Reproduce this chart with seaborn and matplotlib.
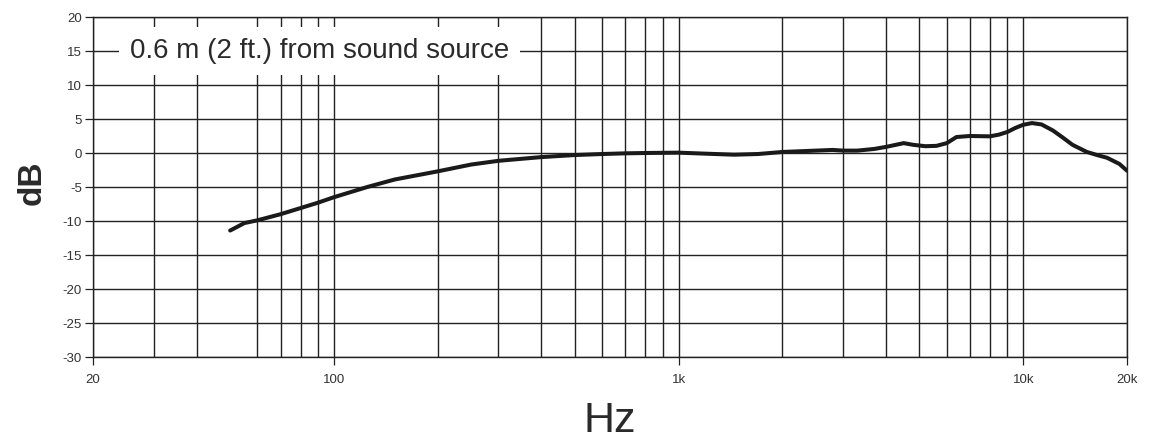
import numpy as np
import pandas as pd
import seaborn as sns
import matplotlib.pyplot as plt
from matplotlib.ticker import FixedLocator, NullFormatter

# frequency response (Hz, dB)
freq_hz = [50, 55, 60, 70, 80, 90, 100, 125, 150, 200, 250, 300, 400, 500, 600,
           700, 800, 1000, 1200, 1450, 1700, 2000, 2500, 2800, 3000, 3300, 3700,
           4000, 4500, 4800, 5200, 5600, 6000, 6400, 7000, 8000, 8500, 9000,
           9500, 10000, 10600, 11300, 12200, 13000, 13900, 15300, 16500, 17500,
           19000, 20000]
level_db = [-11.4, -10.3, -9.9, -9.0, -8.1, -7.3, -6.5, -5.0, -3.9, -2.7, -1.7,
            -1.15, -0.6, -0.3, -0.15, -0.05, 0.0, 0.05, -0.1, -0.25, -0.15, 0.15,
            0.35, 0.45, 0.35, 0.35, 0.6, 0.9, 1.45, 1.2, 1.0, 1.05, 1.45, 2.35,
            2.5, 2.45, 2.7, 3.1, 3.7, 4.15, 4.4, 4.2, 3.3, 2.3, 1.2, 0.15, -0.35,
            -0.7, -1.6, -2.6]

major_ticks = [20, 100, 1000, 10000, 20000]
major_labels = ['20', '100', '1k', '10k', '20k']
grid_freqs = [30, 40, 60, 70, 80, 90,
              200, 300, 400, 500, 600, 700, 800, 900,
              2000, 3000, 4000, 5000, 6000, 7000, 8000, 9000]
db_ticks = list(range(-30, 25, 5))

note = '0.6 m (2 ft.) from sound source'

df = pd.DataFrame({'Hz': freq_hz, 'dB': level_db})

sns.set_theme(style='white')
plt.rcParams['font.family'] = ['Liberation Sans Narrow', 'Liberation Sans', 'DejaVu Sans']

ink = '#222222'
fig = plt.figure(figsize=(11.51, 4.45), dpi=100)
ax = fig.add_axes([93 / 1151, 1 - 357 / 445, (1127 - 93) / 1151, (357 - 17) / 445])

sns.lineplot(data=df, x='Hz', y='dB', ax=ax, color='#1a1a1a', linewidth=2.9,
             sort=True, zorder=4, solid_joinstyle='round', solid_capstyle='round')

ax.set_xscale('log')
ax.set_xlim(20, 20000)
ax.set_ylim(-30, 20)

ax.xaxis.set_major_locator(FixedLocator(major_ticks))
ax.set_xticklabels(major_labels)
ax.xaxis.set_minor_locator(FixedLocator(grid_freqs))
ax.xaxis.set_minor_formatter(NullFormatter())
ax.set_yticks(db_ticks)
ax.set_yticklabels([str(v) for v in db_ticks])

ax.grid(True, which='both', color=ink, linewidth=1.0)
ax.tick_params(axis='both', which='major', length=6, width=0.9, color=ink,
               labelsize=9.5, labelcolor='#333333', pad=2, bottom=True, left=True)
ax.tick_params(axis='x', which='minor', length=0)
ax.tick_params(axis='x', which='major', pad=6)

for s in ax.spines.values():
    s.set_color(ink)
    s.set_linewidth(1.0)

ax.set_xlabel('')
ax.set_ylabel('')

ax.text(25.6, 15, note, fontsize=20, color='#2a2a2a', ha='left', va='center',
        family=['Liberation Sans', 'DejaVu Sans'], zorder=5,
        bbox=dict(boxstyle='square,pad=0.4', facecolor='white', edgecolor='none'))

fig.text(32 / 1151, 1 - 183 / 445, 'dB', rotation=90, fontsize=24, fontweight='bold',
         color='#2a2a2a', ha='center', va='center',
         family=['Liberation Sans', 'DejaVu Sans'])
fig.text(610 / 1151, 1 - 421 / 445, 'Hz', fontsize=31, color='#2a2a2a',
         ha='center', va='center')

fig.savefig('out.png', dpi=100, facecolor='white')
